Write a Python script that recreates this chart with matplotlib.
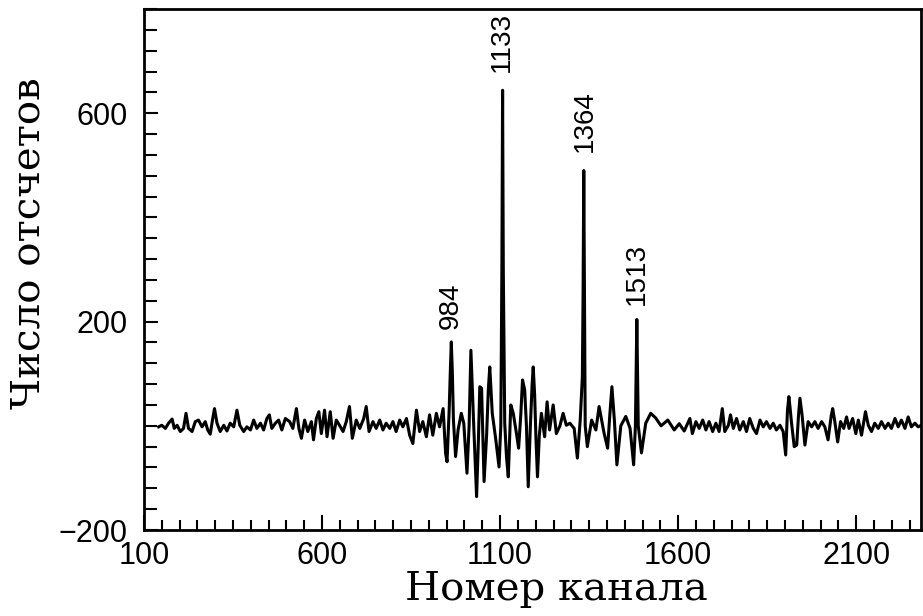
import numpy as np
import matplotlib.pyplot as plt
from matplotlib.ticker import MultipleLocator

# channel numbers and counts
channels = [141, 150, 160, 169, 179, 185, 193, 202, 211, 218, 225, 235,
            244, 253, 263, 272, 279, 286, 293, 298, 305, 314, 324, 333,
            342, 352, 361, 369, 380, 389, 399, 408, 417, 427, 436, 445,
            452, 459, 469, 478, 487, 497, 509, 518, 528, 535, 542, 551,
            560, 570, 576, 584, 591, 598, 607, 614, 623, 631, 640, 649,
            659, 668, 677, 685, 696, 706, 717, 724, 732, 743, 752, 762,
            771, 780, 790, 799, 808, 818, 827, 837, 846, 855, 865, 874,
            883, 893, 902, 911, 921, 930, 940, 947, 951, 957, 960, 963,
            966, 969, 975, 982, 991, 998, 1007, 1013, 1016, 1018, 1021, 1026,
            1034, 1039, 1043, 1048, 1052, 1055, 1062, 1067, 1071, 1075, 1078, 1088,
            1097, 1102, 1105, 1107, 1109, 1113, 1118, 1123, 1130, 1137, 1146, 1152,
            1158, 1163, 1169, 1174, 1179, 1185, 1190, 1193, 1197, 1201, 1205, 1210,
            1216, 1225, 1232, 1239, 1249, 1258, 1268, 1277, 1286, 1296, 1308, 1317,
            1325, 1331, 1333, 1335, 1337, 1339, 1345, 1357, 1369, 1378, 1392, 1402,
            1408, 1414, 1421, 1428, 1439, 1453, 1465, 1475, 1480, 1482, 1484, 1486,
            1488, 1497, 1509, 1523, 1537, 1552, 1571, 1589, 1603, 1617, 1633, 1640,
            1650, 1659, 1669, 1678, 1687, 1697, 1706, 1715, 1724, 1731, 1741, 1747,
            1755, 1764, 1773, 1783, 1792, 1801, 1811, 1820, 1830, 1839, 1848, 1858,
            1867, 1876, 1886, 1895, 1902, 1907, 1911, 1915, 1918, 1926, 1933, 1938,
            1942, 1948, 1956, 1965, 1975, 1984, 1993, 2003, 2012, 2021, 2030, 2034,
            2040, 2048, 2056, 2065, 2073, 2080, 2090, 2099, 2106, 2115, 2126, 2134,
            2143, 2152, 2162, 2171, 2181, 2190, 2199, 2209, 2218, 2227, 2237, 2246,
            2255, 2265, 2274, 2283]
counts = [-2, 1, -5, 5, 13, -5, 1, -11, -5, 24, -5, -11,
          8, 11, -2, 8, -8, -16, 14, 33, 5, -11, 1, -10,
          5, -2, 30, 1, -11, -2, -8, 11, -5, 5, -8, 14,
          21, -5, 5, 11, -8, 14, 8, -5, 33, -5, -24, 11,
          -11, 8, -27, 14, 27, -15, 30, -21, 27, -24, 11, 1,
          -11, 8, 37, -24, 11, -5, 14, 37, -11, 8, -5, 11,
          -8, 5, -5, 8, -11, 11, -2, 14, -18, -34, 30, -11,
          8, -21, 21, -18, 24, -2, 33, -53, -69, 30, 100, 161,
          100, 10, -59, -8, 24, 5, -91, 0, 90, 145, 90, 0,
          -136, -30, 75, 72, -30, -107, -20, 70, 113, 60, 24, -27,
          -79, 0, 300, 644, 300, 5, -60, -98, 40, 24, -15, -43,
          20, 88, 69, 0, -117, 0, 80, 113, 60, -30, -98, -20,
          24, -21, 46, -8, 40, -15, 0, 24, 1, 5, -5, -62,
          11, 94, 250, 490, 250, 0, -40, 11, -8, 37, -14, -43,
          20, 75, 10, -75, 0, 18, -5, -75, 0, 100, 204, 100,
          0, -52, 5, 24, 15, 0, 11, -8, 4, -10, 14, -15,
          8, -5, 11, -8, 8, -11, 5, -11, 33, -11, 1, 21,
          -5, 14, -8, 8, -11, 14, -5, -15, 11, -2, 8, -5,
          5, -8, 1, -11, -56, 30, 56, 30, 8, -40, -37, 20,
          53, 21, -37, 8, -2, 8, -5, 8, -2, -27, 20, 33,
          8, -31, 8, -5, 17, -5, 14, -15, 11, -18, 27, 1,
          -11, 5, -5, 8, -5, 5, -5, 14, -2, 11, -5, 17,
          -2, 5, -2, 1]
assert len(channels) == len(counts)

peak_labels = ['984', '1133', '1364', '1513']
peak_x = [962, 1105, 1338, 1484]
peak_y = [185, 679, 525, 232]

x_ticks = [100, 600, 1100, 1600, 2100]
y_ticks = [-200, 200, 600]

fig = plt.figure(figsize=(9.23, 6.16), dpi=100)
ax = fig.add_axes([144 / 923, 86 / 616, 777 / 923, 521 / 616])

ax.plot(channels, counts, color='black', lw=2.2, solid_joinstyle='round')

for lab, px, py in zip(peak_labels, peak_x, peak_y):
    ax.text(px, py, lab, rotation=90, ha='center', va='bottom',
            fontsize=20, family='Liberation Sans')

ax.set_xlim(100, 2282)
ax.set_ylim(-200, 800)
ax.set_xticks(x_ticks)
ax.set_yticks(y_ticks)
ax.xaxis.set_minor_locator(MultipleLocator(50))
ax.yaxis.set_minor_locator(MultipleLocator(40))

ax.tick_params(axis='both', which='both', direction='in', width=1.5,
               labelsize=22, labelfontfamily='Liberation Sans')
ax.tick_params(axis='x', which='major', length=11, pad=8)
ax.tick_params(axis='x', which='minor', length=7)
ax.tick_params(axis='y', which='major', length=10, pad=12)
ax.tick_params(axis='y', which='minor', length=9)

for s in ax.spines.values():
    s.set_linewidth(2)

fig.text(556 / 923, 1 - 590 / 616, 'Номер канала', ha='center', va='center',
         fontsize=29, family='DejaVu Serif')
fig.text(29 / 923, 1 - 243 / 616, 'Число отсчетов', ha='center', va='center',
         rotation=90, fontsize=29, family='DejaVu Serif')

fig.savefig('out.png', dpi=100)
